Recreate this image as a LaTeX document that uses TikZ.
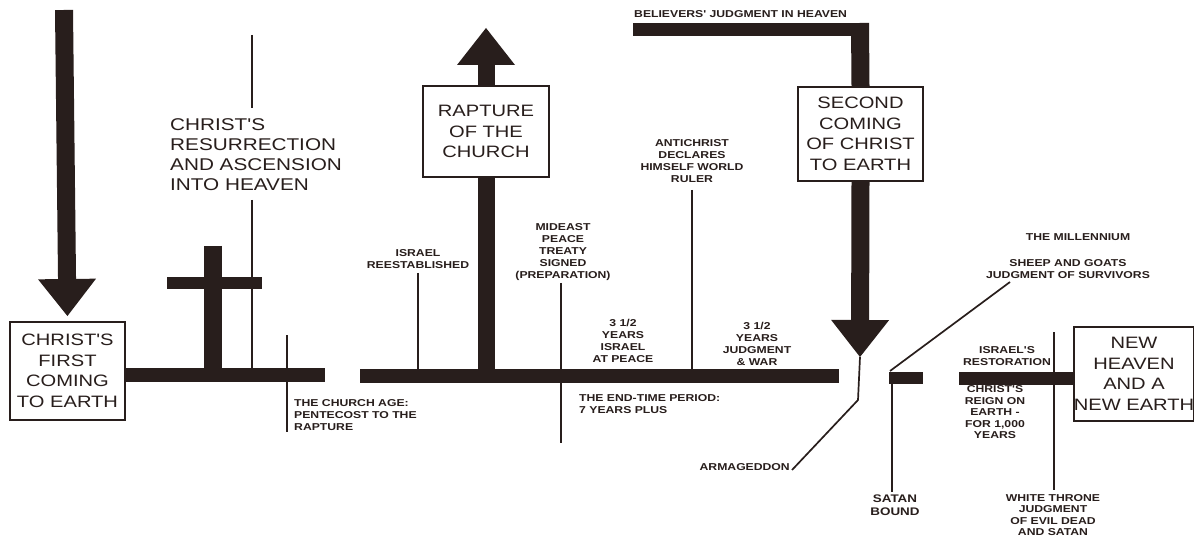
\documentclass[tikz,border=0pt]{standalone}
\usepackage{fontspec}
\setmainfont{Liberation Sans}
\newfontfamily\widefont[FakeStretch=1.22]{Liberation Sans}
\usetikzlibrary{arrows.meta}
\definecolor{ink}{RGB}{40,30,28}
\tikzset{
  thickbar/.style={draw=ink,line width=14pt},
  shaft/.style={draw=ink,line width=18pt},
  thinline/.style={draw=ink,line width=1.7pt},
  headtip/.style={-{Triangle[width=58pt,length=37pt,line width=0pt]}},
  bigbox/.style={draw=ink,line width=2pt,fill=white,text=ink,align=center,inner sep=0pt,
    font=\widefont\fontsize{16.5}{20.5}\selectfont},
  biglab/.style={text=ink,align=left,inner sep=0pt,font=\widefont\fontsize{17}{20}\selectfont},
  lab/.style={text=ink,align=center,inner sep=0pt,font=\widefont\bfseries\fontsize{10}{12}\selectfont},
  tightlab/.style={lab,font=\widefont\bfseries\fontsize{10}{11.5}\selectfont},
  midlab/.style={text=ink,align=center,inner sep=0pt,font=\widefont\bfseries\fontsize{11}{13}\selectfont}
}
\begin{document}
\begin{tikzpicture}[x=1pt,y=-1pt]
\useasboundingbox[fill=white] (0,0) rectangle (1194,537);

% boxes
\node[bigbox,minimum width=115pt,minimum height=98pt] (first) at (67.5,371) {CHRIST'S\\FIRST\\COMING\\TO EARTH};
\node[bigbox,minimum width=126pt,minimum height=91pt] (rapt) at (486,131.5) {RAPTURE\\OF THE\\CHURCH};
\node[bigbox,minimum width=125pt,minimum height=94pt] (second) at (860.5,134) {SECOND\\COMING\\OF CHRIST\\TO EARTH};
\node[bigbox,minimum width=118pt,minimum height=94pt] (newh) at (1134,374) {NEW\\HEAVEN\\AND A\\NEW EARTH};

% coordinates
\coordinate (a1top) at (64,10);
\coordinate (L1e) at (325,375);
\coordinate (L2s) at (360,376);
\coordinate (L2e) at (839,376);
\coordinate (raptop) at (486,28);
\coordinate (rapbase) at (486,376);
\coordinate (crT) at (213,246);
\coordinate (crB) at (213,375);
\coordinate (crL) at (167,283);
\coordinate (crR) at (262,283);
\coordinate (resT) at (252,35);
\coordinate (resU) at (252,108);
\coordinate (resD) at (252,200);
\coordinate (resB) at (252,370);
\coordinate (ch1) at (287,335);
\coordinate (ch2) at (287,432);
\coordinate (isT) at (418,273);
\coordinate (isB) at (418,370);
\coordinate (mdT) at (561,283);
\coordinate (mdB) at (561,443);
\coordinate (acT) at (692,190);
\coordinate (acB) at (692,370);
\coordinate (belL) at (633,29.5);
\coordinate (belR) at (869,29.5);
\coordinate (belC) at (860,23);
\coordinate (tip2) at (860,357);
\coordinate (armK) at (858,400);
\coordinate (armE) at (792,470);
\coordinate (satL) at (889,378);
\coordinate (satR) at (923,378);
\coordinate (satB) at (892,492);
\coordinate (shA) at (890,371);
\coordinate (shB) at (1010,282);
\coordinate (L3s) at (959,378);
\coordinate (wtT) at (1054,332);
\coordinate (wtB) at (1054,490);

% labels
\node[biglab,anchor=west] (res) at (170,155) {CHRIST'S\\RESURRECTION\\AND ASCENSION\\INTO HEAVEN};
\node[lab,align=left,anchor=north west] (church) at (294,399) {THE CHURCH AGE:\\PENTECOST TO THE\\RAPTURE};
\node[lab] (israel) at (418,259) {ISRAEL\\REESTABLISHED};
\node[lab] (mideast) at (563,252) {MIDEAST\\PEACE\\TREATY\\SIGNED\\(PREPARATION)};
\node[lab] (anti) at (692,161.5) {ANTICHRIST\\DECLARES\\HIMSELF WORLD\\RULER};
\node[lab] (peace) at (623,341) {3 1/2\\YEARS\\ISRAEL\\AT PEACE};
\node[lab] (war) at (757,344) {3 1/2\\YEARS\\JUDGMENT\\\& WAR};
\node[lab,align=left,anchor=west] (endt) at (579,404) {THE END-TIME PERIOD:\\7 YEARS PLUS};
\node[lab,anchor=east] (arm) at (790,467) {ARMAGEDDON};
\node[lab,anchor=west] (bel) at (634,14) {BELIEVERS' JUDGMENT IN HEAVEN};
\node[midlab] (satan) at (895,505.5) {SATAN\\BOUND};
\node[lab] (mill) at (1078,237) {THE MILLENNIUM};
\node[lab] (sheep) at (1068,269.5) {SHEEP AND GOATS\\JUDGMENT OF SURVIVORS};
\node[lab] (restor) at (1007,356.5) {ISRAEL'S\\RESTORATION};
\node[tightlab] (reign) at (995,412.5) {CHRIST'S\\REIGN ON\\EARTH -\\FOR 1,000\\YEARS};
\node[tightlab] (white) at (1053,515) {WHITE THRONE\\JUDGMENT\\OF EVIL DEAD\\AND SATAN};

% timeline bars
\draw[thickbar] (first.east |- L1e) -- (L1e);
\draw[thickbar] (L2s) -- (L2e);
\draw[thickbar,line width=12pt] (satL) -- (satR);
\draw[thickbar,line width=13pt] (L3s) -- (newh.west |- L3s);

% first coming arrow
\draw[shaft,headtip,shorten >=5pt] (a1top) -- (first.north);

% cross
\draw[shaft] (crT) -- (crB);
\draw[thickbar,line width=12pt] (crL) -- (crR);

% rapture arrow
\draw[shaft,line width=17pt] (rapbase) -- (rapt.south);
\draw[shaft,line width=17pt,headtip] (rapt.north) -- (raptop);

% believers judgment and second coming
\draw[thickbar,line width=13pt] (belL) -- (belR);
\draw[shaft] (belC) -- (second.north);
\draw[shaft,headtip] (second.south) -- (tip2);

% thin connectors
\draw[thinline] (resT) -- (resU);
\draw[thinline] (resD) -- (resB);
\draw[thinline] (ch1) -- (ch2);
\draw[thinline] (isT) -- (isB);
\draw[thinline] (mdT) -- (mdB);
\draw[thinline] (acT) -- (acB);
\draw[thinline] (tip2) -- (armK) -- (armE);
\draw[thinline] (satL) ++(3,0) coordinate (satS) (satS) -- (satB);
\draw[thinline] (shA) -- (shB);
\draw[thinline] (wtT) -- (wtB);
\end{tikzpicture}
\end{document}
